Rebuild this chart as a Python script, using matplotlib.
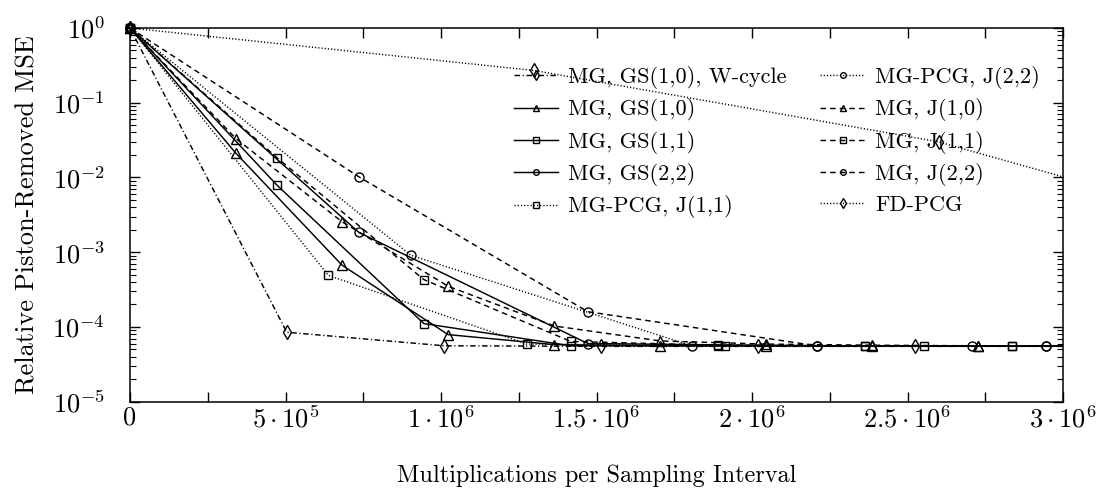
import matplotlib
matplotlib.use("Agg")
import matplotlib.pyplot as plt
import numpy as np

plt.rcParams['font.family'] = ['cmr10']
plt.rcParams['mathtext.fontset'] = 'cm'
plt.rcParams['axes.formatter.use_mathtext'] = True
plt.rcParams['axes.unicode_minus'] = False

# ---- data ----
x_wcycle = [0, 5.04e5, 1.01e6, 1.515e6, 2.02e6, 2.525e6, 3.03e6]
y_wcycle = [1, 8.5e-5, 5.6e-5, 5.5e-5, 5.5e-5, 5.5e-5, 5.5e-5]

x_10 = [0, 3.41e5, 6.82e5, 1.023e6, 1.364e6, 1.705e6, 2.046e6, 2.387e6, 2.728e6, 3.069e6]
y_gs10 = [1, 0.021, 6.7e-4, 7.9e-5, 5.8e-5, 5.6e-5, 5.6e-5, 5.6e-5, 5.6e-5, 5.6e-5]
y_j10 = [1, 0.033, 2.55e-3, 3.5e-4, 1.03e-4, 6.5e-5, 5.9e-5, 5.7e-5, 5.6e-5, 5.6e-5]

x_11 = [0, 4.725e5, 9.45e5, 1.4175e6, 1.89e6, 2.3625e6, 2.835e6, 3.3075e6]
y_gs11 = [1, 7.9e-3, 1.11e-4, 5.6e-5, 5.6e-5, 5.6e-5, 5.6e-5, 5.6e-5]
y_j11 = [1, 0.0184, 4.3e-4, 6.4e-5, 5.7e-5, 5.6e-5, 5.6e-5, 5.6e-5]

x_22 = [0, 7.36e5, 1.472e6, 2.208e6, 2.944e6, 3.68e6]
y_gs22 = [1, 1.84e-3, 6.0e-5, 5.6e-5, 5.6e-5, 5.6e-5]
y_j22 = [1, 0.0102, 1.6e-4, 5.6e-5, 5.6e-5, 5.6e-5]

x_pcg11 = [0, 6.38e5, 1.276e6, 1.914e6, 2.552e6, 3.19e6]
y_pcg11 = [1, 4.9e-4, 5.9e-5, 5.6e-5, 5.6e-5, 5.6e-5]

x_pcg22 = [0, 9.03e5, 1.806e6, 2.709e6, 3.612e6]
y_pcg22 = [1, 9.1e-4, 5.6e-5, 5.6e-5, 5.6e-5]

x_fd = [0, 1.30e6, 2.60e6, 3.90e6]
y_fd = [1, 0.27, 0.03, 9e-4]

labels = ["MG, GS(1,0), W-cycle", "MG, GS(1,0)", "MG, GS(1,1)", "MG, GS(2,2)",
          "MG-PCG, J(1,1)", "MG-PCG, J(2,2)", "MG, J(1,0)", "MG, J(1,1)",
          "MG, J(2,2)", "FD-PCG"]

xticks = [0, 2.5e5, 5e5, 7.5e5, 1e6, 1.25e6, 1.5e6, 1.75e6, 2e6, 2.25e6, 2.5e6, 2.75e6, 3e6]
xticklabels = ["0", "", r"$5\cdot10^5$", "", r"$1\cdot10^6$", "", r"$1.5\cdot10^6$", "",
               r"$2\cdot10^6$", "", r"$2.5\cdot10^6$", "", r"$3\cdot10^6$"]

dot = (0, (0.8, 1.4))
dash = (0, (3.8, 2.8))
dashdot = (0, (3.8, 1.8, 0.8, 1.8))

series = [
    (x_wcycle, y_wcycle, dashdot, 'd'),
    (x_10, y_gs10, '-', '^'),
    (x_11, y_gs11, '-', 's'),
    (x_22, y_gs22, '-', 'o'),
    (x_pcg11, y_pcg11, dot, 's'),
    (x_pcg22, y_pcg22, dot, 'o'),
    (x_10, y_j10, dash, '^'),
    (x_11, y_j11, dash, 's'),
    (x_22, y_j22, dash, 'o'),
    (x_fd, y_fd, dot, 'd'),
]

fig = plt.figure(figsize=(10.97, 4.92), dpi=100)
ax = fig.add_axes([130/1097, 1-401.7/492, (1063-130)/1097, (401.7-28)/492])

xmax = 3e6
handles = []
for (xs, ys, ls, mk), lab in zip(series, labels):
    ax.plot(xs, ys, color='black', linestyle=ls, linewidth=1.05)
    xs_a = np.array(xs); ys_a = np.array(ys)
    m = xs_a <= xmax
    ms = {'d': 7.5, '^': 7, 's': 6, 'o': 6.5}[mk]
    ax.plot(xs_a[m], ys_a[m], linestyle='none', marker=mk, markersize=ms,
            markerfacecolor='none', markeredgecolor='black', markeredgewidth=1.0, clip_on=False)
    h, = ax.plot([], [], color='black', linestyle=ls, linewidth=1.05, marker=mk,
                 markersize=ms * 0.62, markerfacecolor='none', markeredgecolor='black',
                 markeredgewidth=1.0)
    handles.append(h)

ax.set_yscale('log')
ax.set_xlim(0, xmax)
ax.set_ylim(1e-5, 1)
ax.set_xticks(xticks)
ax.set_xticklabels(xticklabels)
ax.set_yticks([1e-5, 1e-4, 1e-3, 1e-2, 1e-1, 1])
ax.set_yticklabels([r"$10^{-5}$", r"$10^{-4}$", r"$10^{-3}$", r"$10^{-2}$", r"$10^{-1}$", r"$10^{0}$"])
ax.tick_params(axis='both', which='both', direction='in', top=True, right=True, labelsize=19)
ax.tick_params(axis='both', which='major', length=7, width=1)
ax.tick_params(axis='both', which='minor', length=4, width=0.8)
ax.tick_params(axis='x', pad=3)
ax.tick_params(axis='y', pad=18)
for s in ax.spines.values():
    s.set_linewidth(1.1)

ax.set_xlabel("Multiplications per Sampling Interval", fontsize=17.5, labelpad=23)
ax.set_ylabel("Relative Piston-Removed MSE", fontsize=19, labelpad=9)

leg = ax.legend(handles, labels, ncol=2, frameon=False, fontsize=16,
                loc='upper left', bbox_to_anchor=(0.4016, 0.922),
                handlelength=2.0, handletextpad=0.47, columnspacing=1.5,
                labelspacing=0.42, borderaxespad=0, borderpad=0.4)

fig.savefig("out.png", dpi=100)
